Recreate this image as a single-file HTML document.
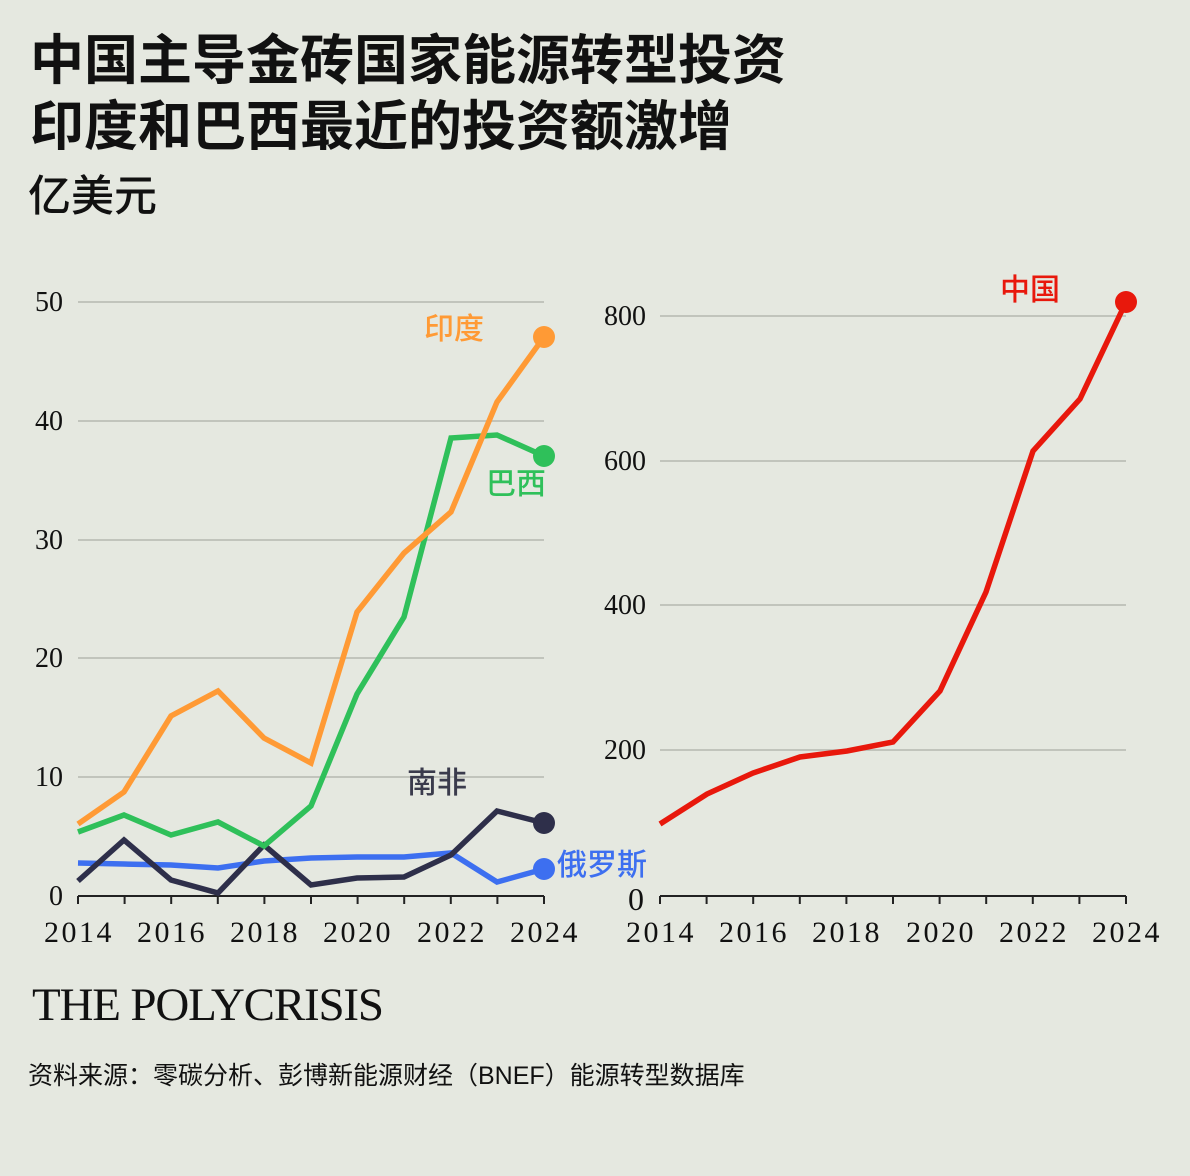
<!DOCTYPE html>
<html><head><meta charset="utf-8"><style>
body{margin:0;background:#e5e8e0;}
.w{position:relative;width:1190px;height:1176px;background:#e5e8e0;overflow:hidden;font-family:"Liberation Sans","Noto Sans CJK SC",sans-serif;}
.t{position:absolute;left:30px;font-weight:bold;color:#111;font-size:54px;line-height:1;}
</style></head><body><div class="w">
<div class="t" style="top:34px">中国主导金砖国家能源转型投资</div>
<div class="t" style="top:100px">印度和巴西最近的投资额激增</div>
<div style="position:absolute;left:28px;top:176px;font-size:43px;line-height:1;color:#111;font-weight:500">亿美元</div>
<svg width="1190" height="1176" style="position:absolute;left:0;top:0">
<g stroke="#b5b7b0" stroke-width="1.5">
<line x1="78" x2="544" y1="302" y2="302"/><line x1="78" x2="544" y1="421" y2="421"/><line x1="78" x2="544" y1="540" y2="540"/><line x1="78" x2="544" y1="658" y2="658"/><line x1="78" x2="544" y1="777" y2="777"/>
<line x1="660" x2="1126" y1="316" y2="316"/><line x1="660" x2="1126" y1="461" y2="461"/><line x1="660" x2="1126" y1="605" y2="605"/><line x1="660" x2="1126" y1="750" y2="750"/>
</g>
<g stroke="#222" stroke-width="2">
<line x1="78" x2="544" y1="896" y2="896"/><line x1="660" x2="1126" y1="896" y2="896"/>
<path d="M78 896v8M124.6 896v8M171.2 896v8M217.8 896v8M264.4 896v8M311 896v8M357.6 896v8M404.2 896v8M450.8 896v8M497.4 896v8M544 896v8"/>
<path d="M660 896v8M706.6 896v8M753.2 896v8M799.8 896v8M846.4 896v8M893 896v8M939.6 896v8M986.2 896v8M1032.8 896v8M1079.4 896v8M1126 896v8"/>
</g>
<g font-family="Liberation Serif,serif" font-size="28" fill="#111">
<text x="63" y="311" text-anchor="end">50</text><text x="63" y="430" text-anchor="end">40</text><text x="63" y="549" text-anchor="end">30</text><text x="63" y="667" text-anchor="end">20</text><text x="63" y="786" text-anchor="end">10</text><text x="63" y="905" text-anchor="end">0</text>
<text x="646" y="325" text-anchor="end">800</text><text x="646" y="470" text-anchor="end">600</text><text x="646" y="614" text-anchor="end">400</text><text x="646" y="759" text-anchor="end">200</text><text x="644" y="910" text-anchor="end" font-size="32">0</text>
<g text-anchor="middle" font-size="30" letter-spacing="2.5"><text x="79" y="942">2014</text><text x="172" y="942">2016</text><text x="265" y="942">2018</text><text x="358" y="942">2020</text><text x="452" y="942">2022</text><text x="545" y="942">2024</text>
<text x="661" y="942">2014</text><text x="754" y="942">2016</text><text x="847" y="942">2018</text><text x="941" y="942">2020</text><text x="1034" y="942">2022</text><text x="1127" y="942">2024</text></g>
</g>
<g fill="none" stroke-width="5.5" stroke-linejoin="miter">
<polyline stroke="#3d6ff0" points="78,863 124,864 171,865 218,868 264,861 311,858 357,857 404,857 451,853 497,882 544,869"/>
<polyline stroke="#2e2f4a" points="78,881 124,840 171,880 218,893 264,845 311,885 357,878 404,877 451,855 497,811 544,823"/>
<polyline stroke="#2fc05a" points="78,832 124,815 171,835 218,822 264,846 311,806 357,694 404,617 451,438 497,435 544,456"/>
<polyline stroke="#ff9a35" points="78,824 124,792 171,716 218,691 264,738 311,763 357,612 404,553 451,512 497,402 544,337"/>
<polyline stroke="#e8180c" points="660,824 707,794 753,773 800,757 847,751 893,742 940,691 986,592 1033,451 1080,399 1126,302"/>
</g>
<circle cx="544" cy="869" r="11" fill="#3d6ff0"/><circle cx="544" cy="823" r="11" fill="#2e2f4a"/><circle cx="544" cy="456" r="11" fill="#2fc05a"/><circle cx="544" cy="337" r="11" fill="#ff9a35"/><circle cx="1126" cy="302" r="11" fill="#e8180c"/>
<g font-family="Liberation Sans,Noto Sans CJK SC,sans-serif" font-size="30" font-weight="500">
<text x="424" y="339" fill="#ff9a35">印度</text><text x="486" y="494" fill="#2fc05a">巴西</text><text x="407" y="793" fill="#3a3b4c">南非</text><text x="557" y="875" fill="#3d6ff0">俄罗斯</text><text x="1000" y="300" fill="#e8180c">中国</text>
</g>
<text x="32" y="1020" font-family="Liberation Serif,serif" font-size="47" fill="#111" letter-spacing="-2" textLength="350">THE POLYCRISIS</text>
<text x="28" y="1084" font-family="Liberation Sans,Noto Sans CJK SC,sans-serif" font-size="25" fill="#111">资料来源：零碳分析、彭博新能源财经（BNEF）能源转型数据库</text>
</svg>
</div></body></html>
